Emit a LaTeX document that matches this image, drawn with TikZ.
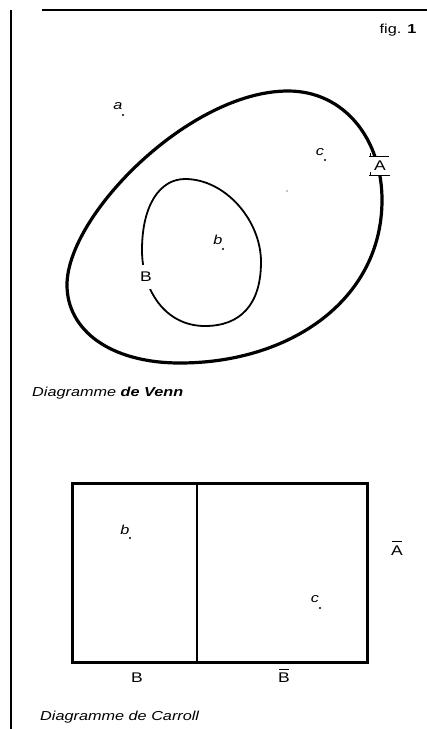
\documentclass[tikz,border=0pt]{standalone}
\usepackage{fontspec}
\setmainfont{Liberation Sans}[FakeStretch=1.25]
\begin{document}
\begin{tikzpicture}[x=1pt,y=-1pt,
  lbl/.style={font=\fontsize{14}{16}\selectfont, inner sep=1pt},
  pt/.style={font=\fontsize{13}{15}\selectfont\itshape, inner sep=0pt},
  dotmark/.style={fill=black, radius=1.1},
  captext/.style={font=\fontsize{13}{15}\selectfont\itshape, anchor=west, inner sep=0pt}]
\useasboundingbox (0,0) rectangle (427,729);
% frame lines
\draw[line width=2pt] (11,10) -- (11,729);
\draw[line width=2pt] (42,10) -- (427,10);
\node[font=\fontsize{13}{15}\selectfont, inner sep=0pt] (fig) at (398,30) {fig. \textbf{1}};
% Venn outer
\draw[line width=3.2pt] (67,285) .. controls (67,215) and (190,91) .. (288,91)
  .. controls (345,91) and (382,140) .. (382,200)
  .. controls (382,300) and (290,363) .. (180,363)
  .. controls (110,363) and (67,330) .. cycle;
% Venn inner
\draw[line width=1.8pt] (142,250) .. controls (142,205) and (160,179) .. (185,179)
  .. controls (225,179) and (261,220) .. (261,262)
  .. controls (261,305) and (240,326) .. (205,326)
  .. controls (165,326) and (142,290) .. cycle;
% A label
\node[lbl, fill=white, minimum width=20pt, minimum height=19pt] (A) at (380,166) {A};
\draw[line width=0.7pt] (369,156) -- (389,156);
\draw[line width=0.7pt] (370,153) -- (370,157);
\draw[line width=0.7pt] (369,175) -- (390,175);
\draw[line width=0.7pt] (370,172) -- (370,176);
% B label
\node[lbl, fill=white, minimum width=12pt, minimum height=24pt, inner sep=0pt] (B) at (146,277) {B};
% points
\node[pt] (la) at (118,106) {a};
\fill[dotmark] (123,115) circle;
\node[pt] (lc) at (320,152) {c};
\fill[dotmark] (325,160) circle;
\fill[dotmark] (287,191) circle[radius=0.6];
\node[pt] (lb) at (218,240) {b};
\fill[dotmark] (223,249) circle;
\node[captext] (venncap) at (32,393) {Diagramme \textbf{de Venn}};
% Carroll
\draw[line width=3pt] (72,483) rectangle (367,662);
\draw[line width=1.5pt] (197,483) -- (197,662);
\node[pt] (cb) at (125,530) {b};
\fill[dotmark] (130,538) circle;
\node[pt] (cc) at (315,599) {c};
\fill[dotmark] (320,608) circle;
\node[lbl] (cB) at (137,678) {B};
\node[lbl] (cBb) at (284,678) {B};
\draw[line width=0.8pt] (279,669) -- (289,669);
\node[lbl] (cAb) at (397,551) {A};
\draw[line width=0.8pt] (392,541) -- (402,541);
\node[captext] (carcap) at (40,717) {Diagramme de Carroll};
\end{tikzpicture}
\end{document}
